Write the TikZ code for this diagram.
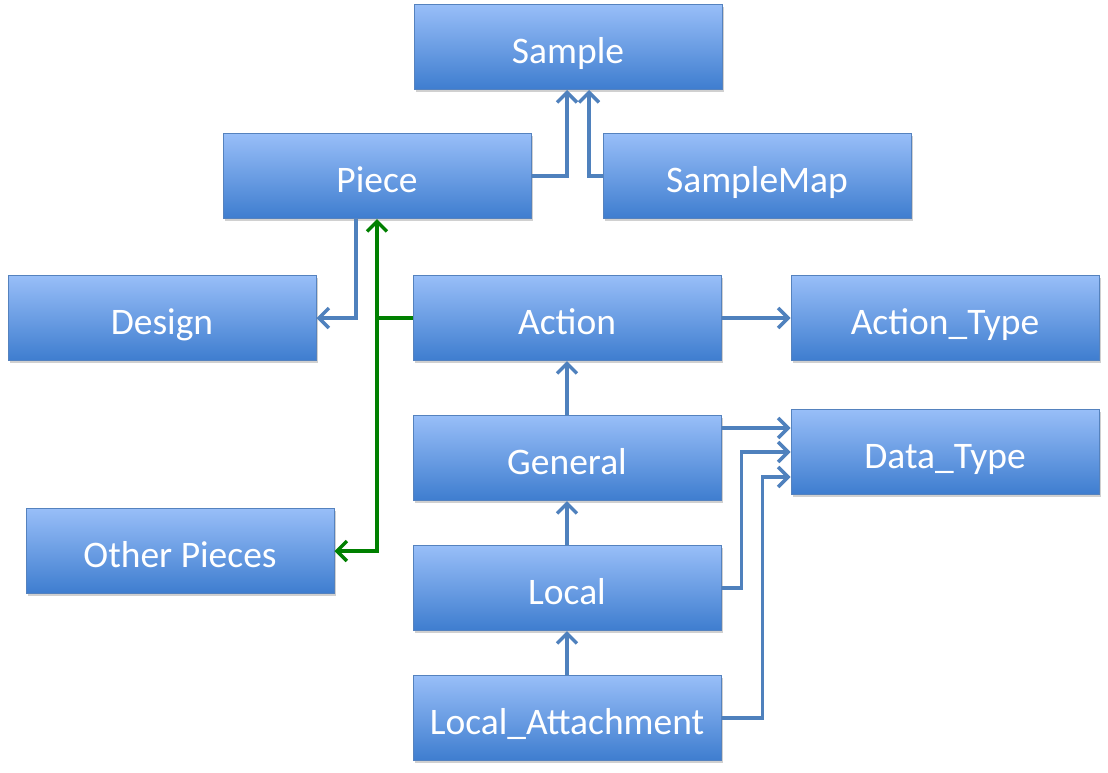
\documentclass[tikz,border=0pt]{standalone}
\usepackage{fontspec}
\setmainfont{Carlito}
\usetikzlibrary{arrows.meta,shadows}
\definecolor{boxtop}{RGB}{152,190,248}
\definecolor{boxbot}{RGB}{62,125,207}
\definecolor{boxline}{RGB}{85,130,190}
\definecolor{conn}{RGB}{79,129,189}
\definecolor{grn}{RGB}{0,128,0}
\begin{document}
\begin{tikzpicture}[x=1pt,y=-1pt,
  box/.style={draw=boxline, line width=1pt, top color=boxtop, bottom color=boxbot,
    minimum width=308pt, minimum height=85pt, inner sep=0pt, text=white,
    text height=32pt, text depth=0pt,
    font=\fontsize{37.5}{40}\selectfont,
    drop shadow={shadow xshift=1.5pt, shadow yshift=-2.5pt, opacity=0.3, fill=black!60}},
  tip/.style={-{Straight Barb[length=10pt,width=20pt,line width=3.5pt]}},
  conn/.style={draw=conn, line width=3.5pt, tip},
  gconn/.style={draw=grn, line width=3.5pt}
]
\useasboundingbox[fill=white] (0,0) rectangle (1108,772);

\node[box] (sample) at (568,47) {Sample};
\node[box] (piece) at (377,176) {Piece};
\node[box] (smap) at (757,176) {SampleMap};
\node[box] (design) at (162,318) {Design};
\node[box] (action) at (567,318) {Action};
\node[box] (atype) at (945,318) {Action\_Type};
\node[box] (general) at (567,458) {General};
\node[box] (dtype) at (945,452) {Data\_Type};
\node[box] (other) at (180,551) {Other Pieces};
\node[box] (local) at (567,588) {Local};
\node[box] (la) at (567,718) {Local\_Attachment};

% to Sample
\draw[conn] (piece.east) -| ([xshift=-1pt]sample.south);
\draw[conn] (smap.west) -| ([xshift=21pt]sample.south);
% Piece to Design
\draw[conn] ([xshift=-21pt]piece.south) |- (design.east);
% green
\coordinate (j) at (377,318);
\draw[gconn] (action.west) -- (j);
\draw[gconn, tip] (j) -- (piece.south);
\draw[gconn, tip] (j) |- (other.east);
% chain
\draw[conn] (action.east) -- (atype.west);
\draw[conn] (general.north) -- (action.south);
\draw[conn] (local.north) -- (general.south);
\draw[conn] (la.north) -- (local.south);
% to Data_Type
\draw[conn] ([yshift=30pt]general.east) -- ([yshift=30pt]general.east -| dtype.west);
\draw[conn] (local.east) -- ++(20,0) |- (dtype.west);
\draw[conn] (la.east) -- ++(41,0) |- ([yshift=-25pt]dtype.west);
\end{tikzpicture}
\end{document}
